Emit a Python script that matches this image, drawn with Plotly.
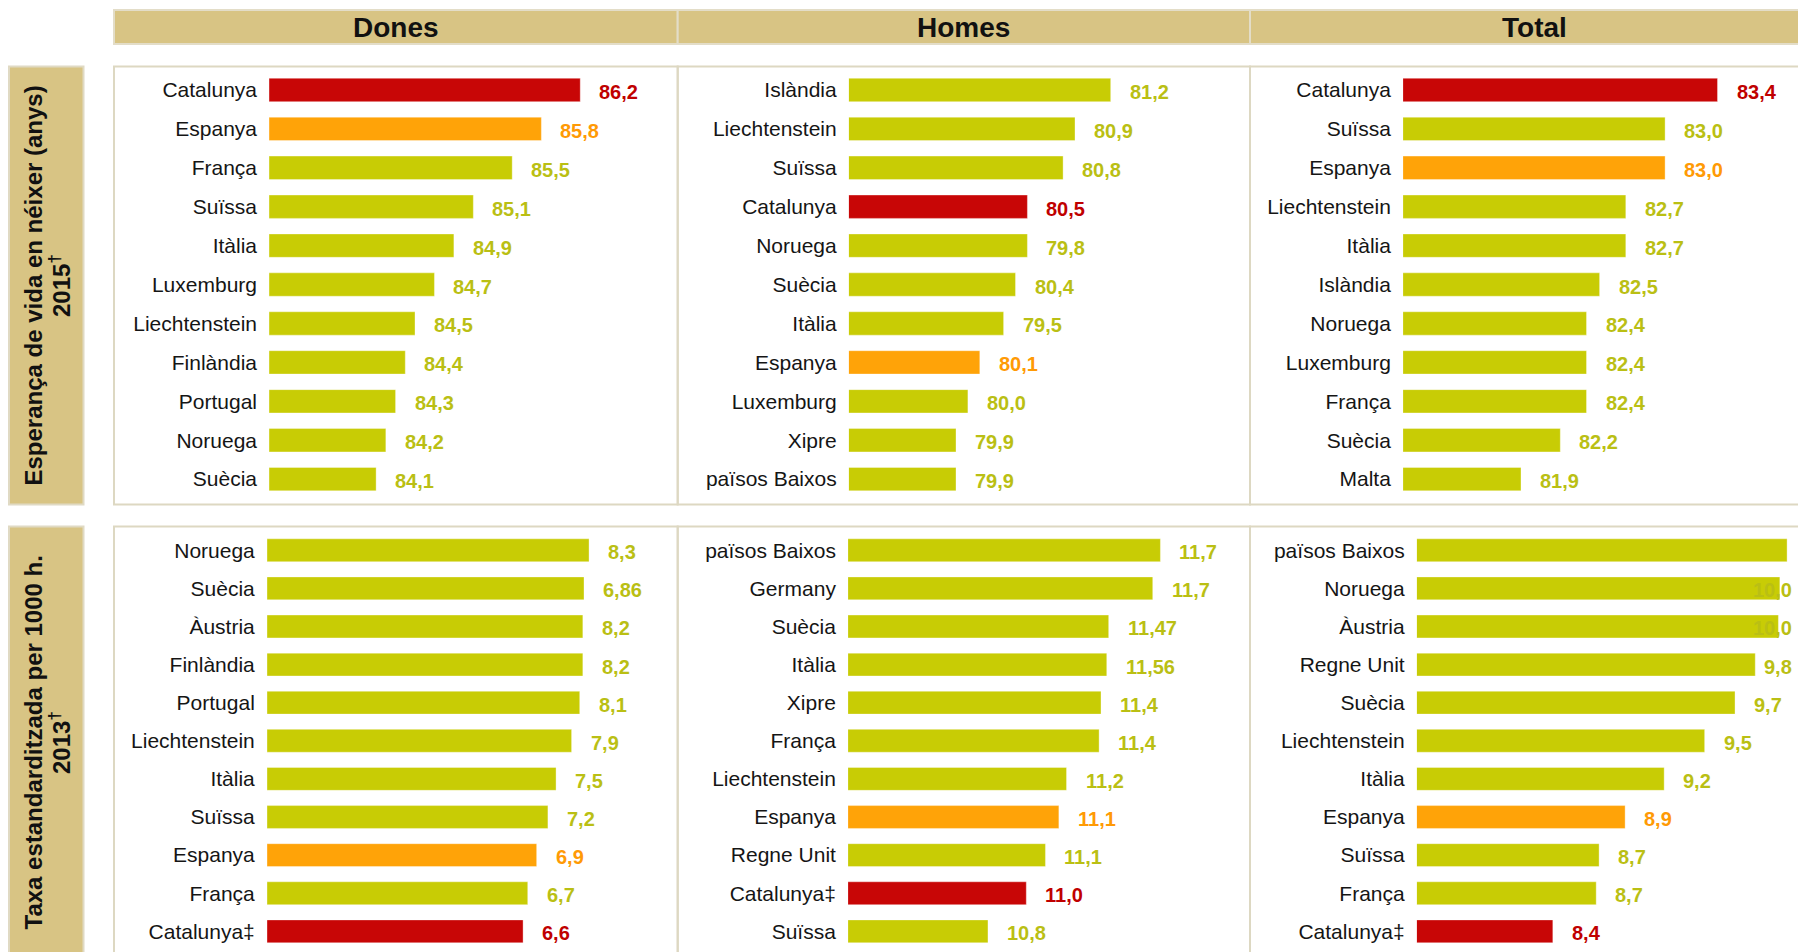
import plotly.graph_objects as go

W, H = 1798, 952

# ---------------- DATA ----------------
# Esperança de vida en néixer (anys) 2015
le_dones_cat = ["Catalunya", "Espanya", "França", "Suïssa", "Itàlia", "Luxemburg",
                "Liechtenstein", "Finlàndia", "Portugal", "Noruega", "Suècia"]
le_dones_val = [86.2, 85.8, 85.5, 85.1, 84.9, 84.7, 84.5, 84.4, 84.3, 84.2, 84.1]
le_dones_lbl = ["86,2", "85,8", "85,5", "85,1", "84,9", "84,7", "84,5", "84,4", "84,3", "84,2", "84,1"]

le_homes_cat = ["Islàndia", "Liechtenstein", "Suïssa", "Catalunya", "Noruega", "Suècia",
                "Itàlia", "Espanya", "Luxemburg", "Xipre", "països Baixos"]
le_homes_val = [81.2, 80.9, 80.8, 80.5, 80.5, 80.4, 80.3, 80.1, 80.0, 79.9, 79.9]
le_homes_lbl = ["81,2", "80,9", "80,8", "80,5", "79,8", "80,4", "79,5", "80,1", "80,0", "79,9", "79,9"]

le_total_cat = ["Catalunya", "Suïssa", "Espanya", "Liechtenstein", "Itàlia", "Islàndia",
                "Noruega", "Luxemburg", "França", "Suècia", "Malta"]
le_total_val = [83.4, 83.0, 83.0, 82.7, 82.7, 82.5, 82.4, 82.4, 82.4, 82.2, 81.9]
le_total_lbl = ["83,4", "83,0", "83,0", "82,7", "82,7", "82,5", "82,4", "82,4", "82,4", "82,2", "81,9"]

# Taxa estandarditzada per 1000 h. 2013
mt_dones_cat = ["Noruega", "Suècia", "Àustria", "Finlàndia", "Portugal", "Liechtenstein",
                "Itàlia", "Suïssa", "Espanya", "França", "Catalunya‡"]
mt_dones_val = [8.3, 8.17, 8.14, 8.14, 8.06, 7.85, 7.45, 7.24, 6.95, 6.72, 6.6]
mt_dones_lbl = ["8,3", "6,86", "8,2", "8,2", "8,1", "7,9", "7,5", "7,2", "6,9", "6,7", "6,6"]

mt_homes_cat = ["països Baixos", "Germany", "Suècia", "Itàlia", "Xipre", "França",
                "Liechtenstein", "Espanya", "Regne Unit", "Catalunya‡", "Suïssa"]
mt_homes_val = [11.7, 11.66, 11.43, 11.42, 11.39, 11.38, 11.21, 11.17, 11.1, 11.0, 10.8]
mt_homes_lbl = ["11,7", "11,7", "11,47", "11,56", "11,4", "11,4", "11,2", "11,1", "11,1", "11,0", "10,8"]

mt_total_cat = ["països Baixos", "Noruega", "Àustria", "Regne Unit", "Suècia", "Liechtenstein",
                "Itàlia", "Espanya", "Suïssa", "França", "Catalunya‡"]
mt_total_val = [10.02, 9.97, 9.96, 9.8, 9.66, 9.45, 9.17, 8.9, 8.72, 8.7, 8.4]
mt_total_lbl = ["", "10,0", "10,0", "9,8", "9,7", "9,5", "9,2", "8,9", "8,7", "8,7", "8,4"]

col_titles = ["Dones", "Homes", "Total"]
row_title_1 = ["Esperança de vida en néixer (anys)", "2015<sup>†</sup>"]
row_title_2 = ["Taxa estandarditzada per 1000 h.", "2013<sup>†</sup>"]

# ---------------- STYLE / LAYOUT ----------------
GREEN, RED, ORANGE = "#C8CC05", "#C80606", "#FFA308"
GREEN_T, RED_T, ORANGE_T = "#BABF14", "#C00000", "#FF9A05"
TAN, BORDER = "#D8C484", "#DDD8C2"
FONT = "Liberation Sans, Arial, sans-serif"

col_edges = [114, 677.7, 1250, 1818]
top_dom = (70.5, 498.6)
bot_dom = (531.2, 950.4)

# (cats, vals, labels, bar_start_px, axis_min, px_per_unit, domain_end_px, ydom)
panels = [
    (le_dones_cat, le_dones_val, le_dones_lbl, 269.2, 83.0, 97.2, 677.7, top_dom),
    (le_homes_cat, le_homes_val, le_homes_lbl, 848.9, 79.0, 119.0, 1250, top_dom),
    (le_total_cat, le_total_val, le_total_lbl, 1403.1, 81.0, 131.0, 1798, top_dom),
    (mt_dones_cat, mt_dones_val, mt_dones_lbl, 267.0, 0.0, 38.8, 677.7, bot_dom),
    (mt_homes_cat, mt_homes_val, mt_homes_lbl, 848.1, 10.07, 191.6, 1250, bot_dom),
    (mt_total_cat, mt_total_val, mt_total_lbl, 1416.9, 7.46, 144.6, 1798, bot_dom),
]


def px(x):
    return x / W


def py(y):
    return 1 - y / H


def colors_for(cat):
    if cat.startswith("Catalunya"):
        return RED, RED_T
    if cat.startswith("Espanya"):
        return ORANGE, ORANGE_T
    return GREEN, GREEN_T


fig = go.Figure()
annotations = []
layout_axes = {}

for i, (cats, vals, lbls, x0, amin, ppu, xend, ydom) in enumerate(panels, start=1):
    sfx = "" if i == 1 else str(i)
    bar_cols = [colors_for(c)[0] for c in cats]
    fig.add_trace(go.Bar(
        x=vals, y=cats, orientation="h",
        marker=dict(color=bar_cols, line=dict(color="rgba(255,255,255,0.35)", width=1)),
        xaxis="x" + sfx, yaxis="y" + sfx, showlegend=False, hoverinfo="x+y",
    ))
    amax = amin + (xend - x0) / ppu
    layout_axes["xaxis" + sfx] = dict(
        domain=[px(x0), px(xend)], range=[amin, amax], anchor="y" + sfx,
        visible=False, fixedrange=True,
    )
    layout_axes["yaxis" + sfx] = dict(
        domain=[py(ydom[1]), py(ydom[0])], anchor="x" + sfx, type="category",
        categoryorder="array", categoryarray=cats, range=[10.5, -0.5],
        showgrid=False, zeroline=False, showline=False,
        ticks="outside", ticklen=7, tickcolor="rgba(0,0,0,0)",
        tickfont=dict(family=FONT, size=21, color="#151515"), fixedrange=True,
    )
    # value labels
    for c, v, t in zip(cats, vals, lbls):
        if not t:
            continue
        tc = colors_for(c)[1]
        end_px = x0 + (v - amin) * ppu
        est_w = 11.1 * sum(1 for ch in t if ch != ",") + 5.6 * t.count(",")
        if end_px + 17 + est_w > 1794:
            annotations.append(dict(
                xref="paper", yref="y" + sfx, x=px(1794), y=c, text="<b>%s</b>" % t,
                xanchor="right", yanchor="middle", yshift=-2, showarrow=False,
                font=dict(family=FONT, size=20, color=tc)))
        else:
            annotations.append(dict(
                xref="x" + sfx, yref="y" + sfx, x=v, y=c, text="<b>%s</b>" % t,
                xanchor="left", yanchor="middle", xshift=17, yshift=-2, showarrow=False,
                font=dict(family=FONT, size=20, color=tc)))

shapes = []
# header band
for k in range(3):
    shapes.append(dict(type="rect", xref="paper", yref="paper",
                       x0=px(col_edges[k]), x1=px(col_edges[k + 1]), y0=py(44), y1=py(10),
                       fillcolor=TAN, line=dict(color="#E3DDC8", width=2), layer="below"))
    annotations.append(dict(xref="paper", yref="paper",
                            x=px((col_edges[k] + col_edges[k + 1]) / 2), y=py(27),
                            text="<b>%s</b>" % col_titles[k], showarrow=False,
                            xanchor="center", yanchor="middle",
                            font=dict(family=FONT, size=28, color="#111111")))
# panel frames
for (ytop, ybot) in [(66.5, 504.5), (526.5, 962)]:
    for k in range(3):
        shapes.append(dict(type="rect", xref="paper", yref="paper",
                           x0=px(col_edges[k]), x1=px(col_edges[k + 1]), y0=py(ybot), y1=py(ytop),
                           fillcolor="rgba(0,0,0,0)", line=dict(color=BORDER, width=2), layer="below"))
    shapes.append(dict(type="rect", xref="paper", yref="paper",
                       x0=px(9), x1=px(83.5), y0=py(ybot), y1=py(ytop),
                       fillcolor=TAN, line=dict(color="#E0DAC4", width=2), layer="below"))

# row titles (rotated)
for (title, yc) in [(row_title_1, 286), (row_title_2, 743)]:
    annotations.append(dict(xref="paper", yref="paper", x=px(32.5), y=py(yc),
                            text="<b>%s</b>" % title[0], textangle=-90, showarrow=False,
                            xanchor="center", yanchor="middle",
                            font=dict(family=FONT, size=24, color="#111111")))
    annotations.append(dict(xref="paper", yref="paper", x=px(60), y=py(yc),
                            text="<b>%s</b>" % title[1], textangle=-90, showarrow=False,
                            xanchor="center", yanchor="middle",
                            font=dict(family=FONT, size=24, color="#111111")))

fig.update_layout(
    width=W, height=H, autosize=False,
    margin=dict(l=0, r=0, t=0, b=0, pad=0),
    paper_bgcolor="white", plot_bgcolor="rgba(0,0,0,0)",
    bargap=0.4, showlegend=False,
    shapes=shapes, annotations=annotations,
    font=dict(family=FONT),
    **layout_axes,
)

fig.write_html("out.html", config={"displayModeBar": False},
               post_script="document.body.style.margin='0';document.body.style.overflow='hidden';")
